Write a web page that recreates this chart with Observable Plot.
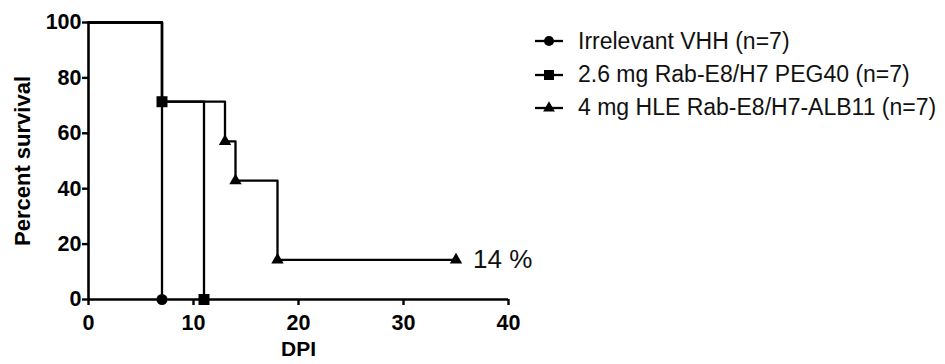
<!DOCTYPE html>
<html>
<head>
<meta charset="utf-8">
<script src="https://cdn.jsdelivr.net/npm/d3@7"></script>
<script src="https://cdn.jsdelivr.net/npm/@observablehq/plot@0.6"></script>
<style>
  html, body { margin: 0; padding: 0; background: #fff; }
  #wrap { position: relative; width: 945px; height: 364px; font-family: "Liberation Sans", Arial, sans-serif; }
  #wrap svg [aria-label$="tick label"], #wrap svg [aria-label$="tick label"] text { font-size: 21.5px !important; font-weight: bold !important; }
  #legend { position: absolute; left: 0; top: 0; }
  .row { position: absolute; left: 533px; display: flex; align-items: center; height: 20px; white-space: nowrap; }
  .row svg { display: block; }
  .row span { font-size: 23px; color: #111; margin-left: 15px; }
</style>
</head>
<body>
<div id="wrap"><div id="legend"></div></div>
<script>
// Kaplan–Meier survival after challenge, days post infection (DPI)
const seriesNames = [
  "Irrelevant VHH (n=7)",
  "2.6 mg Rab-E8/H7 PEG40 (n=7)",
  "4 mg HLE Rab-E8/H7-ALB11 (n=7)"
];
const seriesSymbols = ["circle", "square", "triangle"];

// step curves: day of each change and survival (%) from that day on
const vhhDays = [0, 7];
const vhhSurvival = [100, 0];
const pegDays = [0, 7, 11];
const pegSurvival = [100, 71.4, 0];
const albDays = [0, 7, 13, 14, 18, 35];
const albSurvival = [100, 71.4, 57.1, 42.9, 14.3, 14.3];

// event / censor markers
const vhhMarkDays = [7];
const vhhMarkSurvival = [0];
const pegMarkDays = [7, 11];
const pegMarkSurvival = [71.4, 0];
const albMarkDays = [13, 14, 18, 35];
const albMarkSurvival = [57.1, 42.9, 14.3, 14.3];

const xTicks = [0, 10, 20, 30, 40];
const yTicks = [0, 20, 40, 60, 80, 100];

const zip = (xs, ys) => xs.map((x, i) => ({x, y: ys[i]}));
const vhh = zip(vhhDays, vhhSurvival);
const peg = zip(pegDays, pegSurvival);
const alb = zip(albDays, albSurvival);
const finalPoint = alb[alb.length - 1];

const lineStyle = {x: "x", y: "y", curve: "step-after", stroke: "#000", strokeWidth: 2.3};

const chart = Plot.plot({
  width: 945,
  height: 364,
  marginLeft: 88,
  marginRight: 437,
  marginTop: 22,
  marginBottom: 65,
  style: {fontFamily: "'Liberation Sans', Arial, sans-serif", color: "#000", background: "transparent", overflow: "visible"},
  x: {domain: [0, 40]},
  y: {domain: [0, 100]},
  marks: [
    Plot.line(vhh, lineStyle),
    Plot.line(peg, lineStyle),
    Plot.line(alb, lineStyle),
    Plot.ruleX([0], {stroke: "#000", strokeWidth: 2.6}),
    Plot.ruleY([0], {stroke: "#000", strokeWidth: 2.6}),
    Plot.axisX({ticks: xTicks, tickSize: 6, strokeWidth: 2.4, tickPadding: 9, fontSize: 21.5, fontWeight: "bold", label: null}),
    Plot.axisY({ticks: yTicks, tickSize: 6, strokeWidth: 2.4, tickPadding: 1, fontSize: 21.5, fontWeight: "bold", label: null}),
    Plot.dot(zip(albMarkDays, albMarkSurvival), {x: "x", y: "y", symbol: "triangle", r: 4.6, fill: "#000", stroke: "none"}),
    Plot.dot(zip(pegMarkDays, pegMarkSurvival), {x: "x", y: "y", symbol: "square", r: 6.2, fill: "#000", stroke: "none"}),
    Plot.dot(zip(vhhMarkDays, vhhMarkSurvival), {x: "x", y: "y", symbol: "circle", r: 5.5, fill: "#000", stroke: "none"}),
    Plot.text([finalPoint], {x: "x", y: "y", text: d => `${Math.round(d.y)} %`, textAnchor: "start", dx: 17, fontSize: 26, fill: "#111"}),
    Plot.text(["DPI"], {text: d => d, frameAnchor: "bottom", dy: 56, fontSize: 21, fontWeight: "bold"}),
    Plot.text(["Percent survival"], {text: d => d, frameAnchor: "left", textAnchor: "middle", dx: -66, rotate: -90, fontSize: 22, fontWeight: "bold"})
  ]
});
document.getElementById("wrap").prepend(chart);

// legend: line + marker swatch with series name
const legend = document.getElementById("legend");
const rowTops = [31, 64.5, 97.5];
seriesNames.forEach((name, i) => {
  const row = document.createElement("div");
  row.className = "row";
  row.style.top = rowTops[i] + "px";
  const sw = d3.create("svg").attr("width", 30).attr("height", 20);
  sw.append("line").attr("x1", 2).attr("x2", 30).attr("y1", 10).attr("y2", 10)
    .attr("stroke", "#000").attr("stroke-width", 2.3);
  const sym = {circle: d3.symbolCircle, square: d3.symbolSquare, triangle: d3.symbolTriangle}[seriesSymbols[i]];
  const size = {circle: 80, square: 100, triangle: 60}[seriesSymbols[i]];
  sw.append("path").attr("d", d3.symbol(sym, size)()).attr("transform", "translate(16,10)").attr("fill", "#000");
  row.append(sw.node());
  const label = document.createElement("span");
  label.textContent = name;
  row.append(label);
  legend.append(row);
});
</script>
</body>
</html>
